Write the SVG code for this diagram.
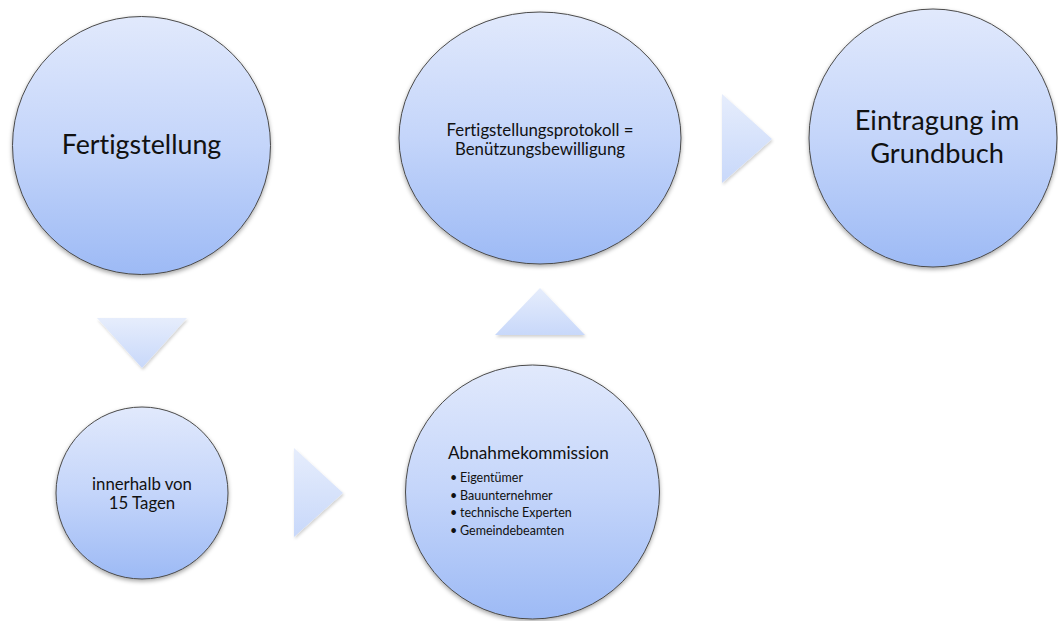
<svg xmlns="http://www.w3.org/2000/svg" width="1058" height="621" viewBox="0 0 1058 621">
  <defs>
    <linearGradient id="bubble" x1="0" y1="0" x2="0" y2="1">
      <stop offset="0" stop-color="#e1e9fc"/>
      <stop offset="0.5" stop-color="#c4d5fa"/>
      <stop offset="1" stop-color="#9dbaf5"/>
    </linearGradient>
    <linearGradient id="arrowFill" x1="0" y1="0" x2="0" y2="1">
      <stop offset="0" stop-color="#e6edfc"/>
      <stop offset="1" stop-color="#c8d8fa"/>
    </linearGradient>
    <filter id="shadow" x="-10%" y="-10%" width="120%" height="125%">
      <feDropShadow dx="0" dy="2" stdDeviation="2" flood-color="#000" flood-opacity="0.35"/>
    </filter>
    <filter id="softShadow" x="-20%" y="-20%" width="140%" height="140%">
      <feDropShadow dx="1" dy="2" stdDeviation="1.5" flood-color="#000" flood-opacity="0.18"/>
    </filter>
  </defs>
  <style>
    .bubble { fill: url(#bubble); stroke: #4a4a4a; stroke-width: 1; filter: url(#shadow); }
    .arrow { fill: url(#arrowFill); stroke: none; filter: url(#softShadow); }
    text { font-family: Lato, "Liberation Sans", sans-serif; fill: #111; font-variant-ligatures: none; }
    .c { text-anchor: middle; }
  </style>
  <rect width="1058" height="621" fill="#ffffff"/>

  <g id="connectors">
    <polygon class="arrow" points="97,318 187,318 142,368"/>
    <polygon class="arrow" points="294,448 294,537 343,493"/>
    <polygon class="arrow" points="495,335 585,335 540,288"/>
    <polygon class="arrow" points="722,94 722,183 772,139"/>
  </g>

  <g id="fertigstellung">
    <circle class="bubble" cx="141.5" cy="145.5" r="129"/>
    <text class="c" x="141.5" y="154" font-size="26.8">Fertigstellung</text>
  </g>

  <g id="protokoll">
    <ellipse class="bubble" cx="540" cy="138" rx="141" ry="126"/>
    <text class="c" x="540" y="135.5" font-size="16.8">Fertigstellungsprotokoll =</text>
    <text class="c" x="540" y="155" font-size="16.8">Benützungsbewilligung</text>
  </g>

  <g id="grundbuch">
    <ellipse class="bubble" cx="933" cy="138" rx="124" ry="129"/>
    <text class="c" x="937" y="130" font-size="27.2">Eintragung im</text>
    <text class="c" x="937" y="163" font-size="27.2">Grundbuch</text>
  </g>

  <g id="frist">
    <circle class="bubble" cx="142" cy="493" r="86"/>
    <text class="c" x="142" y="489.5" font-size="16.8">innerhalb von</text>
    <text class="c" x="142" y="509" font-size="16.8">15 Tagen</text>
  </g>

  <g id="kommission">
    <circle class="bubble" cx="532.5" cy="492" r="127"/>
    <text x="448" y="459" font-size="17.2">Abnahmekommission</text>
    <g font-size="12.5">
      <text x="450" y="482">•</text><text x="460" y="482">Eigentümer</text>
      <text x="450" y="499.5">•</text><text x="460" y="499.5">Bauunternehmer</text>
      <text x="450" y="517">•</text><text x="460" y="517">technische Experten</text>
      <text x="450" y="534.5">•</text><text x="460" y="534.5">Gemeindebeamten</text>
    </g>
  </g>
</svg>
